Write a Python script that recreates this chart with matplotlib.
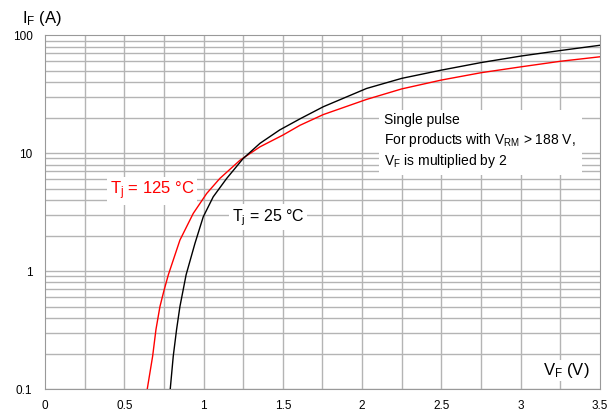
import matplotlib.pyplot as plt
import numpy as np

plt.rcParams['font.family'] = ['Liberation Sans', 'DejaVu Sans']
plt.rcParams['mathtext.fontset'] = 'custom'
plt.rcParams['mathtext.rm'] = 'Liberation Sans'
plt.rcParams['mathtext.it'] = 'Liberation Sans'

# Tj = 25 °C
v25 = [0.79, 0.809, 0.83, 0.851, 0.89, 0.946, 0.998, 1.061, 1.146, 1.25, 1.356, 1.48,
       1.608, 1.755, 2.028, 2.25, 2.5, 2.75, 3.0, 3.25, 3.5]
i25 = [0.1, 0.19, 0.32, 0.5, 0.93, 1.72, 2.88, 4.26, 6.1, 9.0, 12.1, 15.7,
       19.5, 24.7, 35.3, 43, 50.5, 58.5, 66.4, 74, 82]
# Tj = 125 °C
v125 = [0.645, 0.679, 0.70, 0.725, 0.75, 0.778, 0.851, 0.935, 1.02, 1.103, 1.23, 1.356, 1.5,
        1.608, 1.755, 2.028, 2.25, 2.5, 2.75, 3.0, 3.25, 3.5]
i125 = [0.1, 0.19, 0.32, 0.5, 0.68, 0.93, 1.83, 3.08, 4.55, 6.1, 8.7, 11.3, 14.2,
        17.2, 21.2, 28.5, 35, 41.6, 48, 53.8, 60, 65.5]

xticks = [0, 0.5, 1, 1.5, 2, 2.5, 3, 3.5]
xlabels = ['0', '0.5', '1', '1.5', '2', '2.5', '3', '3.5']
yticks = [0.1, 1, 10, 100]
ylabels = ['0.1', '1', '10', '100']

fig = plt.figure(figsize=(6.16, 4.13), dpi=100)
ax = fig.add_axes([0.073, 0.058, 0.901, 0.857])

ax.set_yscale('log')
ax.set_xlim(0, 3.5)
ax.set_ylim(0.1, 100)

gc = '#b4b4b4'
for x in np.arange(0.25, 3.5, 0.25):
    ax.axvline(x, color=gc, lw=1, zorder=1)
for dec in [0.1, 1, 10]:
    for k in range(1, 10):
        ax.axhline(dec * k, color=gc, lw=1, zorder=1)

ax.plot(v125, i125, color='#ff0000', lw=1, zorder=3)
ax.plot(v25, i25, color='black', lw=1, zorder=3)

ax.set_xticks(xticks)
ax.set_xticklabels(xlabels, fontsize=8.5)
ax.set_yticks(yticks)
ax.set_yticklabels(ylabels, fontsize=8.5)
ax.minorticks_off()
ax.tick_params(axis='x', length=0, pad=8)
ax.tick_params(axis='y', length=0, pad=9)
for s in ax.spines.values():
    s.set_color('#999999')

fig.text(0.036, 0.945, r'I$_\mathregular{F}$ (A)', fontsize=12, ha='left')
ax.text(0.898, 0.04, r'V$_\mathregular{F}$ (V)', fontsize=12, transform=ax.transAxes,
        bbox=dict(facecolor='white', edgecolor='none', pad=1))

ax.text(0.41, 4.8, r'T$_\mathregular{j}$ = 125 °C', color='#ff0000', fontsize=12,
        va='center', bbox=dict(facecolor='white', edgecolor='none', pad=2), zorder=4)
ax.text(1.18, 2.85, r'T$_\mathregular{j}$ = 25 °C', color='black', fontsize=11.5,
        va='center', bbox=dict(facecolor='white', edgecolor='none', pad=2), zorder=4)
ax.text(2.14, 7.2, 'Single pulse\nFor products with V$_\\mathregular{RM}$ > 188 V,\nV$_\\mathregular{F}$ is multiplied by 2',
        fontsize=10, linespacing=1.25, va='bottom',
        bbox=dict(facecolor='white', edgecolor='none', pad=4), zorder=4)

fig.savefig('out.png', dpi=100)
